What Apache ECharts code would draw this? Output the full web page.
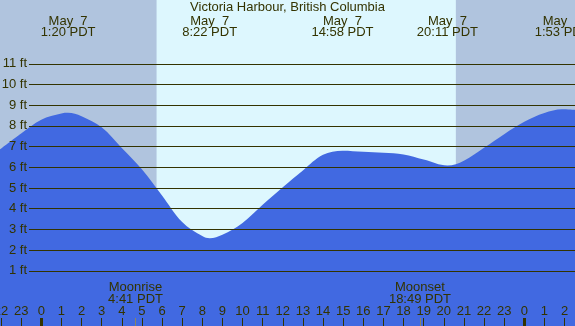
<!DOCTYPE html>
<html>
<head>
<meta charset="utf-8">
<script src="https://cdn.jsdelivr.net/npm/echarts@6/dist/echarts.min.js"></script>
<style>
  html, body { margin: 0; padding: 0; }
  #chart { width: 575px; height: 326px; }
</style>
</head>
<body>
<div id="chart"></div>
<script>
// tide height curve (hours from midnight May 7, feet)
var tideHours   = [-2.05, -1, 0, 1, 1.33, 2, 3, 4, 5, 6, 7, 8, 8.37, 9, 10, 11, 12, 13, 14, 14.97, 16, 17, 18, 19, 20.18, 21, 22, 23, 24, 25, 25.88, 26.52];
var tideHeights = [6.86, 7.63, 8.3, 8.6, 8.63, 8.47, 7.93, 6.93, 5.9, 4.64, 3.36, 2.68, 2.57, 2.74, 3.31, 4.19, 5.04, 5.85, 6.6, 6.8, 6.75, 6.7, 6.62, 6.37, 6.08, 6.32, 6.94, 7.6, 8.2, 8.62, 8.8, 8.77];

// high / low tide labels along the top
var eventHours  = [1.333, 8.367, 14.967, 20.183, 25.883];
var eventLabels = ['May  7\n1:20 PDT', 'May  7\n8:22 PDT', 'May  7\n14:58 PDT', 'May  7\n20:11 PDT', 'May  8\n1:53 PDT'];

// moon
var moonHours  = [4.683, 18.817];
var moonLabels = ['Moonrise\n4:41 PDT', 'Moonset\n18:49 PDT'];

// sun (daylight band)
var sunrise = 5.73;
var sunset  = 20.6;

var hourTicks = [];
for (var h = -2; h <= 26; h++) hourTicks.push(h);
var midnights = [0, 24];
var ftTicks = [1, 2, 3, 4, 5, 6, 7, 8, 9, 10, 11];

var xMin = -2.05, xMax = 26.52;
var yMin = -1.667, yMax = 14.08;
var lineStart = -0.61;   // gridlines begin just right of the ft labels

var txt = '#333300';
var nightColor = '#b0c4de';
var dayColor = '#ddf7fe';
var tideColor = '#4169e1';
var font = 'Liberation Sans, Arial, sans-serif';
var fs = 13;

var myChart = echarts.init(document.getElementById('chart'));

function labelOf(list, names, v) {
    for (var i = 0; i < list.length; i++) {
        if (Math.abs(list[i] - v) < 0.01) return names[i];
    }
    return '';
}

// every x axis sits on the bottom/top edge, never on y = 0
function timeAxis(extra) {
    var ax = {
        type: 'value', min: xMin, max: xMax, position: 'bottom', z: 10,
        axisLine: { show: false, onZero: false },
        splitLine: { show: false }
    };
    for (var k in extra) ax[k] = extra[k];
    return ax;
}

var option = {
    backgroundColor: nightColor,
    animation: false,
    title: {
        text: 'Victoria Harbour, British Columbia',
        left: 'center',
        top: 1,
        padding: 0,
        textStyle: { color: txt, fontSize: fs, fontWeight: 'normal', fontFamily: font }
    },
    grid: { left: 0, right: 0, top: 0, bottom: 0, containLabel: false, outerBoundsMode: 'none' },
    xAxis: [
        timeAxis({
            axisTick: { inside: true, length: 8, customValues: hourTicks, lineStyle: { color: txt, width: 1 } },
            axisLabel: {
                inside: true, margin: 8, customValues: hourTicks, hideOverlap: false,
                color: txt, fontSize: fs, fontFamily: font,
                formatter: function (v) { return ((v % 24) + 24) % 24; }
            }
        }),
        timeAxis({
            axisTick: { inside: true, length: 8, customValues: midnights, lineStyle: { color: txt, width: 3 } },
            axisLabel: { show: false }
        }),
        timeAxis({
            axisTick: { inside: true, length: 8, customValues: moonHours, lineStyle: { color: '#8a8660', width: 1 } },
            axisLabel: {
                inside: true, margin: 21, customValues: moonHours, hideOverlap: false,
                color: txt, fontSize: fs, fontFamily: font, lineHeight: 12, align: 'center',
                formatter: function (v) { return labelOf(moonHours, moonLabels, v); }
            }
        }),
        timeAxis({
            position: 'top',
            axisTick: { show: false },
            axisLabel: {
                inside: true, margin: 16, customValues: eventHours, hideOverlap: false,
                color: txt, fontSize: fs, fontFamily: font, lineHeight: 11, align: 'center',
                formatter: function (v) { return labelOf(eventHours, eventLabels, v); }
            }
        })
    ],
    yAxis: {
        type: 'value', min: yMin, max: yMax, offset: -29, z: 10,
        axisLine: { show: false, onZero: false }, axisTick: { show: false }, splitLine: { show: false },
        axisLabel: {
            customValues: ftTicks, margin: 2, hideOverlap: false,
            color: txt, fontSize: fs, fontFamily: font,
            formatter: '{value} ft'
        }
    },
    series: [
        {
            name: 'daylight',
            type: 'line',
            z: 1,
            data: [[xMin, yMin], [xMax, yMin]],
            showSymbol: false,
            lineStyle: { opacity: 0 },
            silent: true,
            markArea: {
                silent: true,
                itemStyle: { color: dayColor },
                data: [[{ xAxis: sunrise }, { xAxis: sunset }]]
            }
        },
        {
            name: 'tide',
            type: 'line',
            z: 2,
            smooth: 0.35,
            showSymbol: false,
            data: tideHours.map(function (h, i) { return [h, tideHeights[i]]; }),
            lineStyle: { width: 0 },
            areaStyle: { color: tideColor, opacity: 1, origin: 'start' },
            silent: true
        },
        {
            name: 'gridlines',
            type: 'line',
            z: 3,
            data: [],
            silent: true,
            markLine: {
                silent: true,
                symbol: ['none', 'none'],
                label: { show: false },
                lineStyle: { color: txt, width: 1, type: 'solid' },
                data: ftTicks.map(function (v) {
                    return [{ coord: [lineStart, v] }, { coord: [xMax, v] }];
                })
            }
        }
    ]
};

myChart.setOption(option);
</script>
</body>
</html>
